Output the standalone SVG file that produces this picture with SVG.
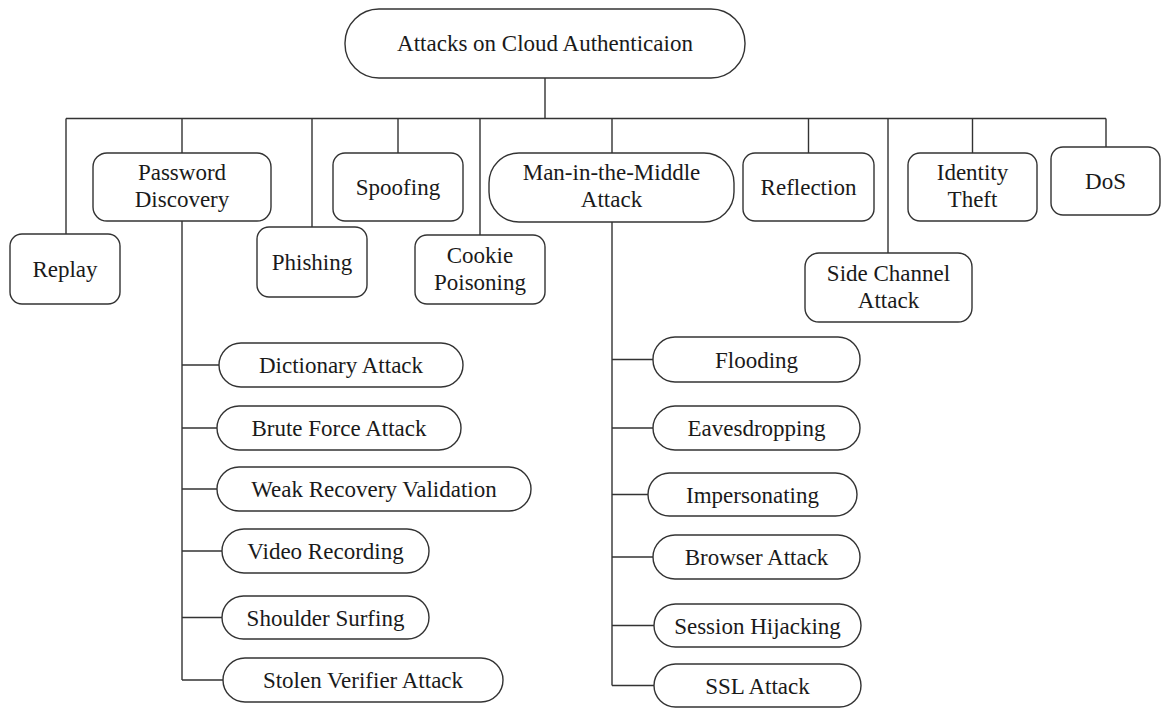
<svg xmlns="http://www.w3.org/2000/svg" width="1161" height="708" viewBox="0 0 1161 708">
<style>
.n rect{fill:#fff;stroke:#333;stroke-width:1.4}
.n text{font-family:"Liberation Serif","Times New Roman",serif;font-size:23px;fill:#1a1a1a;text-anchor:middle}
#connectors path{fill:none;stroke:#333;stroke-width:1.4}
</style>
<rect x="0" y="0" width="1161" height="708" fill="#fff"/>
<g id="connectors">
<path d="M545 78V118.5M66 118.5H1106M66 118.5V234M182 118.5V153M312 118.5V227M398 118.5V153M480 118.5V235M612 118.5V153M808.5 118.5V153M888 118.5V253M972.5 118.5V153M1106 118.5V147"/>
<path d="M182 221V680M182 365H219M182 428H217M182 489H217M182 551H222M182 617.5H222M182 680H223"/>
<path d="M612 222V685.5M612 359.5H653M612 428H653M612 494.5H648M612 557H653M612 625.5H654M612 685.5H654"/>
</g>
<g id="root" class="n"><rect x="345" y="9" width="400" height="69" rx="34"/><text x="545" y="51">Attacks on Cloud Authenticaion</text></g>
<g id="replay" class="n"><rect x="10" y="234" width="110" height="70" rx="12"/><text x="65" y="276.5">Replay</text></g>
<g id="password" class="n"><rect x="93" y="153" width="178" height="68" rx="14"/><text x="182" y="180">Password</text><text x="182" y="207">Discovery</text></g>
<g id="phishing" class="n"><rect x="257" y="227" width="110" height="70" rx="12"/><text x="312" y="269.5">Phishing</text></g>
<g id="spoofing" class="n"><rect x="333" y="153" width="130" height="68" rx="12"/><text x="398" y="194.5">Spoofing</text></g>
<g id="cookie" class="n"><rect x="415" y="235" width="130" height="69" rx="12"/><text x="480" y="263">Cookie</text><text x="480" y="290">Poisoning</text></g>
<g id="mitm" class="n"><rect x="489" y="153" width="245" height="69" rx="30"/><text x="611.5" y="180">Man-in-the-Middle</text><text x="611.5" y="207">Attack</text></g>
<g id="reflection" class="n"><rect x="743" y="153" width="131" height="68" rx="12"/><text x="808.5" y="194.5">Reflection</text></g>
<g id="sidechannel" class="n"><rect x="805" y="253" width="167" height="69" rx="14"/><text x="888.5" y="281">Side Channel</text><text x="888.5" y="308">Attack</text></g>
<g id="identity" class="n"><rect x="908" y="153" width="129" height="68" rx="12"/><text x="972.5" y="180">Identity</text><text x="972.5" y="207">Theft</text></g>
<g id="dos" class="n"><rect x="1051" y="147" width="109" height="68" rx="12"/><text x="1105.5" y="188.5">DoS</text></g>
<g id="dictionary" class="n"><rect x="219" y="343" width="244" height="44" rx="22"/><text x="341" y="373">Dictionary Attack</text></g>
<g id="bruteforce" class="n"><rect x="217" y="406" width="244" height="44" rx="22"/><text x="339" y="436">Brute Force Attack</text></g>
<g id="weakrecovery" class="n"><rect x="217" y="467" width="314" height="44" rx="22"/><text x="374" y="497">Weak Recovery Validation</text></g>
<g id="video" class="n"><rect x="222" y="529" width="207" height="44" rx="22"/><text x="325.5" y="559">Video Recording</text></g>
<g id="shoulder" class="n"><rect x="222" y="596" width="207" height="43" rx="21.5"/><text x="325.5" y="625.5">Shoulder Surfing</text></g>
<g id="stolen" class="n"><rect x="223" y="658" width="280" height="44" rx="22"/><text x="363" y="688">Stolen Verifier Attack</text></g>
<g id="flooding" class="n"><rect x="653" y="337" width="207" height="45" rx="22"/><text x="756.5" y="367.5">Flooding</text></g>
<g id="eavesdropping" class="n"><rect x="653" y="406" width="207" height="44" rx="22"/><text x="756.5" y="436">Eavesdropping</text></g>
<g id="impersonating" class="n"><rect x="648" y="473" width="209" height="43" rx="21.5"/><text x="752.5" y="502.5">Impersonating</text></g>
<g id="browser" class="n"><rect x="653" y="535" width="207" height="44" rx="22"/><text x="756.5" y="565">Browser Attack</text></g>
<g id="session" class="n"><rect x="654" y="604" width="207" height="43" rx="21.5"/><text x="757.5" y="633.5">Session Hijacking</text></g>
<g id="ssl" class="n"><rect x="654" y="664" width="207" height="43" rx="21.5"/><text x="757.5" y="693.5">SSL Attack</text></g>
</svg>
